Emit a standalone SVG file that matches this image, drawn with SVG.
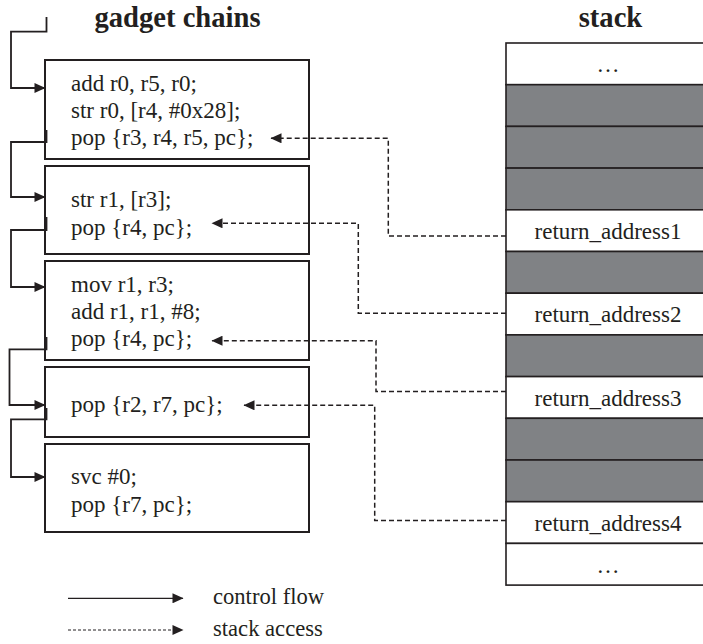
<svg xmlns="http://www.w3.org/2000/svg" width="703" height="644" viewBox="0 0 703 644">
  <style>
    text { font-family: "Liberation Serif", "Times New Roman", serif; fill: #231f20; }
    .code { font-size: 23px; }
    .legend-text { font-size: 22.6px; }
    .title { font-size: 28.6px; font-weight: bold; text-anchor: middle; }
    .cell-text { font-size: 23px; text-anchor: middle; }
    .box { fill: #ffffff; stroke: #231f20; stroke-width: 2; }
    .cell { fill: #ffffff; stroke: #231f20; stroke-width: 1.6; }
    .cell.used { fill: #808285; }
    .flow { fill: none; stroke: #231f20; stroke-width: 1.8; }
    .access { fill: none; stroke: #231f20; stroke-width: 1.5; stroke-dasharray: 5 3; }
    .legend-flow { fill: none; stroke: #231f20; stroke-width: 1.2; }
    .legend-access { fill: none; stroke: #231f20; stroke-width: 1; stroke-dasharray: 3 2; }
  </style>
  <defs>
    <marker id="head" markerUnits="userSpaceOnUse" markerWidth="12" markerHeight="10" viewBox="0 0 11 10" refX="10.5" refY="5" orient="auto">
      <path d="M0,0 L11,5 L0,10 Z" fill="#231f20"/>
    </marker>
  </defs>

  <!-- column headings -->
  <text class="title" x="177.5" y="27">gadget chains</text>
  <text class="title" x="610.5" y="27">stack</text>

  <!-- gadget boxes -->
  <g id="gadget1">
    <rect class="box" x="45" y="60" width="264" height="99"/>
    <text class="code" x="71" y="91">add r0, r5, r0;</text>
    <text class="code" x="71" y="118">str r0, [r4, #0x28];</text>
    <text class="code" x="71" y="145">pop {r3, r4, r5, pc};</text>
  </g>
  <g id="gadget2">
    <rect class="box" x="45" y="166" width="264" height="88"/>
    <text class="code" x="71" y="207">str r1, [r3];</text>
    <text class="code" x="71" y="235">pop {r4, pc};</text>
  </g>
  <g id="gadget3">
    <rect class="box" x="45" y="261" width="264" height="99"/>
    <text class="code" x="71" y="292">mov r1, r3;</text>
    <text class="code" x="71" y="319">add r1, r1, #8;</text>
    <text class="code" x="71" y="346">pop {r4, pc};</text>
  </g>
  <g id="gadget4">
    <rect class="box" x="45" y="367" width="264" height="70"/>
    <text class="code" x="71" y="412">pop {r2, r7, pc};</text>
  </g>
  <g id="gadget5">
    <rect class="box" x="45" y="444" width="264" height="88"/>
    <text class="code" x="71" y="484">svc #0;</text>
    <text class="code" x="71" y="512">pop {r7, pc};</text>
  </g>

  <!-- stack frame cells, top to bottom -->
  <g id="stack">
    <rect class="cell" x="506" y="43" width="210" height="41.7"/>
    <rect class="cell used" x="506" y="84.7" width="210" height="41.7"/>
    <rect class="cell used" x="506" y="126.4" width="210" height="41.7"/>
    <rect class="cell used" x="506" y="168.1" width="210" height="41.7"/>
    <rect class="cell" x="506" y="209.8" width="210" height="41.7"/>
    <rect class="cell used" x="506" y="251.5" width="210" height="41.7"/>
    <rect class="cell" x="506" y="293.2" width="210" height="41.7"/>
    <rect class="cell used" x="506" y="334.9" width="210" height="41.7"/>
    <rect class="cell" x="506" y="376.6" width="210" height="41.7"/>
    <rect class="cell used" x="506" y="418.3" width="210" height="41.7"/>
    <rect class="cell used" x="506" y="460" width="210" height="41.7"/>
    <rect class="cell" x="506" y="501.7" width="210" height="41.7"/>
    <rect class="cell" x="506" y="543.4" width="210" height="41.7"/>
    <text class="cell-text" x="608" y="72">…</text>
    <text class="cell-text" x="608" y="239">return_address1</text>
    <text class="cell-text" x="608" y="322">return_address2</text>
    <text class="cell-text" x="608" y="406">return_address3</text>
    <text class="cell-text" x="608" y="531">return_address4</text>
    <text class="cell-text" x="608" y="573">…</text>
  </g>

  <!-- connectors -->
  <g id="connectors">
    <!-- control flow between gadgets -->
    <path class="flow" d="M46.5,17 V31.7 H11 V88 H45" marker-end="url(#head)"/>
    <path class="flow" d="M46.5,130 V142 H11 V197 H45" marker-end="url(#head)"/>
    <path class="flow" d="M46.5,217 V230 H11 V287 H45" marker-end="url(#head)"/>
    <path class="flow" d="M46.5,337 V349.3 H9.5 V405 H45" marker-end="url(#head)"/>
    <path class="flow" d="M46.5,408 V419.3 H11 V477 H45" marker-end="url(#head)"/>
    <!-- return addresses popped by each gadget -->
    <path class="access" d="M506,236 H388.3 V138.3 H271" marker-end="url(#head)"/>
    <path class="access" d="M506,313.3 H358.3 V223.3 H212" marker-end="url(#head)"/>
    <path class="access" d="M506,391.5 H376 V340.7 H212" marker-end="url(#head)"/>
    <path class="access" d="M506,520.5 H374.7 V405.3 H244" marker-end="url(#head)"/>
  </g>

  <!-- legend -->
  <g id="legend">
    <path class="legend-flow" d="M68,598.3 H183" marker-end="url(#head)"/>
    <path class="legend-access" d="M68,630 H183" marker-end="url(#head)"/>
    <text class="legend-text" x="213" y="604">control flow</text>
    <text class="legend-text" x="213" y="636">stack access</text>
  </g>
</svg>
